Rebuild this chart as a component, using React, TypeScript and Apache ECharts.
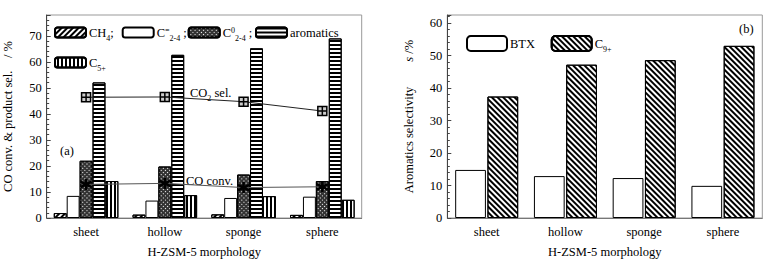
import React, { useEffect, useRef } from "react";
import * as echarts from "echarts";

const categories = ["sheet", "hollow", "sponge", "sphere"];
const ch4 = [1.9, 1.3, 1.4, 1.2];
const c24ene = [8.5, 6.7, 7.7, 8.2];
const c24ane = [22.0, 19.8, 16.7, 14.2];
const aromatics = [52.1, 62.7, 65.2, 69.0];
const c5plus = [14.2, 8.8, 8.4, 7.0];
const co2Sel = [46.4, 46.5, 44.7, 41.1];
const coConv = [12.9, 13.3, 11.7, 12.0];
const btx = [14.8, 12.9, 12.3, 9.9];
const c9plus = [37.4, 47.2, 48.6, 53.0];

const FONT = "Liberation Serif, Times New Roman, serif";
const FS = 12.5;

const rich = {
  b: { fontFamily: FONT, fontSize: FS, color: "#000" },
  sub: { fontFamily: FONT, fontSize: 8, color: "#000", verticalAlign: "bottom", lineHeight: 8, padding: [0, 0, -3, 0] },
  sup: { fontFamily: FONT, fontSize: 8, color: "#000", verticalAlign: "top", lineHeight: 8 },
  i: { fontFamily: FONT, fontSize: FS, color: "#000", fontStyle: "italic" },
};

const labels: Record<string, string> = {
  CH4: "{b|CH}{sub|4}{b|;}",
  "C2-4=": "{b|C}{sup|=}{sub|2-4}{b| ;}",
  "C2-4 0": "{b|C}{sup|0}{sub|2-4}{b| ;}",
  aromatics: "{b|aromatics}",
  "C5+": "{b|C}{sub|5+}",
  BTX: "{b|BTX}",
  "C9+": "{b|C}{sub|9+}",
};

export default function App() {
  const ref = useRef<HTMLDivElement>(null);
  useEffect(() => {
    if (!ref.current) return;
    const chart = echarts.init(ref.current, null, { renderer: "svg" });
    const hLines = { symbol: "rect", color: "#000", dashArrayX: [1, 0], dashArrayY: [1.2, 1.8], rotation: 0 };
    const vLines = { symbol: "rect", color: "#000", dashArrayX: [1, 0], dashArrayY: [1.2, 1.8], rotation: Math.PI / 2 };
    const diagA = { symbol: "rect", color: "#000", dashArrayX: [1, 0], dashArrayY: [1.1, 1.9], rotation: -Math.PI / 4 };
    const diagB = { symbol: "rect", color: "#000", dashArrayX: [1, 0], dashArrayY: [1.6, 1.6], rotation: Math.PI / 4 };
    const dots = { symbol: "rect", color: "#fff", dashArrayX: [1, 1.8], dashArrayY: [1, 1.8], rotation: Math.PI / 4 };

    const bar = (name: string, data: number[], decal: any, xi: number, color = "#fff") => ({
      name,
      type: "bar",
      xAxisIndex: xi,
      yAxisIndex: xi,
      data,
      barGap: xi === 0 ? "0%" : "5%",
      barCategoryGap: xi === 0 ? "18%" : "20%",
      itemStyle: { color, borderColor: "#000", borderWidth: 1, decal },
    });

    const axisLabel = { fontFamily: FONT, fontSize: FS, color: "#000" };
    const yAxis = (max: number, name: string, gi: number, gap: number) => ({
      type: "value",
      gridIndex: gi,
      min: 0,
      max,
      interval: 10,
      name,
      nameLocation: "middle",
      nameGap: gap,
      nameTextStyle: { fontFamily: FONT, fontSize: FS, color: "#000", rich },
      axisLine: { show: true, lineStyle: { color: "#444" } },
      axisTick: { show: true, inside: true, length: 4, lineStyle: { color: "#444" } },
      minorTick: { show: true, splitNumber: 5, length: 2.5, lineStyle: { color: "#444" } },
      splitLine: { show: false },
      axisLabel: { ...axisLabel, margin: 5, showMaxLabel: false, formatter: (v: number) => (v % 10 === 0 ? String(v) : "") },
    });
    const xAxis = (gi: number) => ({
      type: "category",
      gridIndex: gi,
      data: categories,
      name: "H-ZSM-5 morphology",
      nameLocation: "middle",
      nameGap: 27,
      nameTextStyle: { fontFamily: FONT, fontSize: FS, color: "#000" },
      axisLine: { lineStyle: { color: "#777" } },
      axisTick: { show: false },
      axisLabel: { ...axisLabel, margin: 7 },
    });

    const leg = (name: string, left: number, top: number, w: number, h: number) => ({
      data: [name],
      left,
      top,
      padding: 0,
      itemWidth: w,
      itemHeight: h,
      selectedMode: false,
      formatter: (n: string) => labels[n],
      textStyle: { fontFamily: FONT, fontSize: FS, color: "#000", rich, padding: [0, 0, 0, -2] },
    });

    chart.setOption({
      animation: false,
      grid: [
        { left: 46.7, right: 417.3, top: 15, bottom: 40.3, show: true, borderColor: "#999", borderWidth: 1, containLabel: false },
        { left: 447.3, right: 16.7, top: 15, bottom: 39.7, show: true, borderColor: "#999", borderWidth: 1, containLabel: false },
      ],
      xAxis: [xAxis(0), xAxis(1)],
      yAxis: [
        yAxis(78, "CO conv. & product sel.    / %", 0, 32),
        yAxis(62.5, "Aromatics selectivity        {i|s} /%", 1, 32),
      ],
      legend: [
        leg("CH4", 54, 26, 31, 10),
        leg("C2-4=", 121.7, 26, 31, 10),
        leg("C2-4 0", 187.7, 26, 31, 10),
        leg("aromatics", 255, 26, 31, 10),
        leg("C5+", 54, 56, 31, 10),
        leg("BTX", 466, 35, 40, 15),
        leg("C9+", 550.7, 35, 40, 15),
      ],
      series: [
        bar("CH4", ch4, diagA, 0),
        bar("C2-4=", c24ene, undefined, 0),
        bar("C2-4 0", c24ane, dots, 0, "#333"),
        bar("aromatics", aromatics, hLines, 0),
        bar("C5+", c5plus, vLines, 0),
        {
          name: "CO2 sel.",
          type: "line",
          xAxisIndex: 0,
          yAxisIndex: 0,
          data: co2Sel,
          z: 5,
          symbol: "path://M0,0H10V10H0Z M5,0V10 M0,5H10",
          symbolSize: 9,
          lineStyle: { color: "#222", width: 1 },
          itemStyle: { color: "#ccc", borderColor: "#000", borderWidth: 1.5 },
        },
        {
          name: "CO conv.",
          type: "line",
          xAxisIndex: 0,
          yAxisIndex: 0,
          data: coConv,
          z: 5,
          symbol: "path://M5,0L5,10M0.67,2.5L9.33,7.5M0.67,7.5L9.33,2.5",
          symbolSize: 11,
          lineStyle: { color: "#555", width: 1 },
          itemStyle: { color: "#000", borderColor: "#000", borderWidth: 2.5 },
        },
        bar("BTX", btx, undefined, 1),
        bar("C9+", c9plus, diagB, 1),
      ],
      graphic: [
        { type: "text", left: 190, top: 86, style: { text: "{b|CO}{sub|2}{b| sel.}", rich } },
        { type: "text", left: 186, top: 174, style: { text: "{b|CO conv.}", rich } },
        { type: "text", left: 60, top: 144, style: { text: "{b|(a)}", rich } },
        { type: "text", left: 739, top: 22, style: { text: "{b|(b)}", rich } },
      ],
    });
    return () => chart.dispose();
  }, []);
  return <div ref={ref} style={{ position: "fixed", left: 0, top: 0, width: 779, height: 263, background: "#fff" }} />;
}
